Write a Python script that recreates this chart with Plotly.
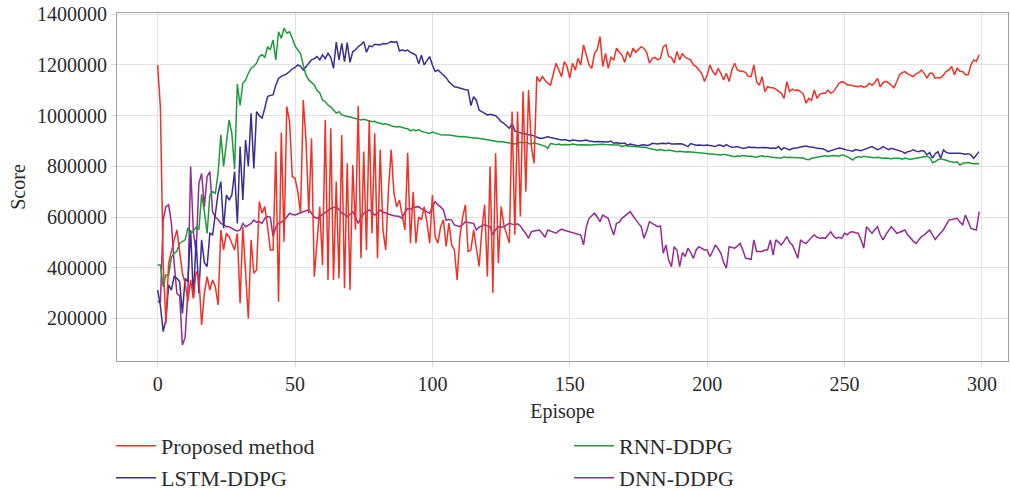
import numpy as np
import plotly.graph_objects as go

# Episodes 0..299
episodes = list(range(300))

# Scores in thousands (x1000 when plotted)
proposed_method = [
    1200,1030,420,180,418,470,510,549,457,378,
    339,266,352,280,385,365,174,299,365,312,
    352,325,253,549,470,536,523,500,470,536,
    260,562,391,200,510,378,391,661,615,641,
    562,470,470,858,266,933,503,1036,977,760,
    753,700,615,1062,900,615,911,365,500,641,
    411,983,352,950,352,740,358,924,319,812,
    312,805,550,1038,437,858,470,983,536,930,
    437,865,549,470,707,865,694,640,667,602,
    549,854,497,700,497,600,589,641,580,497,
    687,523,497,562,589,484,576,490,470,352,
    523,600,648,464,470,549,480,405,549,648,
    365,800,300,852,418,641,569,530,497,1016,
    530,1016,602,1095,700,1101,880,812,1154,1134,
    1154,1140,1128,1121,1167,1207,1180,1154,1213,1194,
    1148,1207,1180,1226,1200,1279,1240,1200,1187,1246,
    1260,1312,1194,1246,1187,1230,1220,1266,1250,1240,
    1210,1253,1230,1266,1250,1260,1272,1265,1250,1207,
    1226,1230,1220,1226,1272,1279,1233,1230,1207,1253,
    1220,1246,1230,1225,1220,1200,1194,1180,1167,1135,
    1160,1200,1175,1160,1187,1167,1141,1167,1135,1180,
    1207,1180,1175,1175,1170,1154,1154,1200,1134,1120,
    1154,1095,1114,1110,1110,1105,1095,1088,1068,1134,
    1095,1105,1100,1101,1095,1085,1049,1068,1060,1101,
    1068,1085,1088,1088,1101,1088,1095,1110,1128,1134,
    1130,1121,1121,1118,1115,1114,1118,1112,1116,1128,
    1120,1130,1147,1114,1130,1135,1130,1121,1110,1134,
    1161,1170,1174,1165,1161,1154,1165,1170,1180,1167,
    1148,1167,1167,1148,1150,1150,1160,1175,1180,1194,
    1161,1187,1175,1174,1161,1161,1200,1220,1215,1240,
]

rnn_ddpg = [
    411,411,325,371,371,440,457,465,497,503,
    510,557,535,545,560,550,690,620,535,687,
    700,694,773,924,800,890,983,930,790,1125,
    1040,1128,1140,1167,1187,1195,1207,1233,1240,1230,
    1272,1260,1299,1220,1331,1305,1345,1325,1331,1305,
    1275,1259,1245,1200,1160,1141,1130,1121,1100,1090,
    1062,1055,1042,1035,1022,1010,1016,1003,1000,996,
    995,992,990,988,983,986,983,980,976,978,
    972,970,966,968,963,960,957,955,957,952,
    950,948,940,945,940,945,938,935,932,930,
    935,930,928,925,926,924,924,922,920,919,
    917,918,916,915,914,912,912,911,909,907,
    905,903,900,897,897,898,895,893,892,890,
    888,892,895,893,895,890,888,893,890,888,
    885,880,871,890,888,885,888,884,886,885,
    885,888,886,884,885,884,886,885,884,885,
    886,888,887,886,884,885,884,883,884,878,
    882,880,879,877,878,876,875,873,874,870,
    867,866,864,866,864,862,864,862,860,858,
    860,858,857,858,856,856,855,854,852,853,
    852,851,850,849,847,845,848,846,842,840,
    838,842,840,843,841,840,840,838,836,840,
    842,838,840,837,835,836,834,832,838,835,
    836,835,836,835,834,833,828,826,832,834,
    836,838,840,842,840,842,843,842,840,845,
    843,838,832,825,835,838,836,840,838,836,
    835,834,836,833,832,833,831,830,832,831,
    832,828,833,830,828,830,833,835,836,838,
    840,835,815,818,826,830,828,824,820,818,
    815,818,805,812,815,815,812,810,811,810,
]

lstm_ddpg = [
    312,250,148,195,332,312,365,358,345,220,
    358,345,549,280,510,299,510,420,405,536,
    530,615,694,740,556,687,667,687,779,575,
    878,667,904,800,1009,792,1016,1000,990,1030,
    1075,1080,1082,1120,1147,1155,1160,1165,1174,1185,
    1190,1200,1195,1180,1193,1205,1220,1225,1233,1220,
    1240,1225,1246,1230,1187,1290,1220,1285,1213,1288,
    1210,1252,1260,1272,1280,1292,1250,1275,1272,1282,
    1280,1279,1285,1283,1286,1292,1290,1292,1255,1260,
    1255,1259,1250,1245,1239,1205,1238,1200,1215,1233,
    1200,1174,1180,1170,1160,1150,1134,1125,1114,1112,
    1108,1105,1102,1101,1040,1075,1060,1022,1015,1008,
    1003,1005,1003,1000,990,976,970,960,950,970,
    940,935,932,930,928,925,924,920,915,911,
    911,915,917,914,911,910,908,904,906,902,
    900,904,902,903,900,902,904,900,898,897,
    898,897,898,897,896,900,891,893,891,890,
    892,884,888,886,885,880,884,885,882,884,
    891,889,888,890,891,889,892,888,889,887,
    889,888,884,878,890,885,883,884,883,882,
    884,882,880,878,884,883,878,886,880,875,
    876,878,874,871,872,876,874,875,873,874,
    872,874,873,871,872,871,878,865,874,870,
    865,870,871,873,876,878,880,877,876,874,
    871,870,869,865,858,862,866,870,872,870,
    866,864,862,860,866,865,862,866,870,871,
    878,872,866,870,878,872,866,871,868,866,
    863,858,851,858,860,865,860,858,862,860,
    845,855,832,850,858,832,865,855,852,852,
    852,853,852,850,848,850,845,832,845,858,
]

dnn_ddpg = [
    266,266,588,641,648,575,418,299,290,95,
    125,300,799,540,460,733,772,640,760,779,
    620,600,590,575,570,562,562,555,549,545,
    549,575,562,568,575,588,580,582,575,595,
    602,600,523,560,575,580,588,600,615,610,
    608,612,618,621,625,628,615,600,595,602,
    608,615,625,634,638,641,630,615,610,602,
    610,621,600,575,600,615,620,628,620,608,
    615,628,620,615,612,608,605,603,602,595,
    620,634,630,638,641,641,632,628,620,615,
    640,661,648,640,628,588,590,588,569,565,
    562,570,582,578,575,575,549,560,565,569,
    565,562,529,550,562,560,562,568,575,572,
    570,573,565,549,535,516,542,545,548,549,
    535,520,549,545,540,536,545,552,548,545,
    542,540,536,534,529,490,560,595,605,615,
    600,582,608,600,595,560,529,575,580,595,
    605,612,621,605,588,575,562,516,545,582,
    575,570,562,565,457,490,430,404,483,470,
    404,460,444,477,460,437,470,483,475,470,
    470,444,465,490,475,457,420,398,483,480,
    477,485,496,470,437,435,433,510,464,464,
    464,470,470,510,450,510,500,490,505,523,
    500,490,465,437,510,500,496,510,520,529,
    520,516,518,516,530,542,525,516,520,516,
    536,530,540,542,538,536,510,477,562,550,
    536,550,562,530,510,530,549,562,550,536,
    540,545,549,530,516,505,496,510,523,530,
    540,549,530,512,525,536,550,569,588,590,
    592,595,580,569,608,580,556,552,549,621,
]

x_ticks = [0, 50, 100, 150, 200, 250, 300]
y_ticks = [200000, 400000, 600000, 800000, 1000000, 1200000, 1400000]

FONT = "Liberation Serif"
TXT = "#2b2b2b"

series = [
    # name, values, color, legend, rank
    ("DNN-DDPG", dnn_ddpg, "#962B92", "legend2", 2),
    ("LSTM-DDPG", lstm_ddpg, "#3A2E92", "legend2", 1),
    ("RNN-DDPG", rnn_ddpg, "#1E9A3C", "legend", 2),
    ("Proposed method", proposed_method, "#EE3226", "legend", 1),
]

fig = go.Figure()
for name, vals, color, leg, rank in series:
    fig.add_trace(go.Scatter(
        x=episodes, y=np.array(vals, dtype=float) * 1000.0,
        mode="lines", name=name, legend=leg, legendrank=rank,
        line=dict(color=color, width=1.5),
    ))

axis_common = dict(
    showgrid=True, gridcolor="#e2e2e2", gridwidth=1,
    showline=True, linecolor="#a0a0a0", linewidth=1, mirror=True,
    zeroline=False, automargin=False,
    ticks="outside", ticklen=5, tickcolor="#d8d8d8",
    tickfont=dict(family=FONT, size=20, color=TXT),
)

legend_common = dict(
    orientation="h", xanchor="left", yanchor="middle",
    entrywidth=403, entrywidthmode="pixels", itemwidth=40,
    font=dict(family=FONT, size=22, color=TXT), bgcolor="rgba(0,0,0,0)",
    traceorder="normal",
)

fig.update_layout(
    width=1010, height=491,
    margin=dict(l=117, r=2, t=13, b=130, autoexpand=False),
    paper_bgcolor="white", plot_bgcolor="white",
    font=dict(family=FONT, size=20, color=TXT),
    xaxis=dict(
        range=[-14.8, 309.5], tickvals=x_ticks,
        title=dict(text="Episope", font=dict(family=FONT, size=20, color=TXT), standoff=9),
        **axis_common,
    ),
    yaxis=dict(
        range=[32000, 1405000], tickvals=y_ticks,
        tickformat="d",
        title=dict(text="Score", font=dict(family=FONT, size=20, color=TXT), standoff=6),
        **axis_common,
    ),
    legend=dict(x=-0.0067, y=-0.2443, **legend_common),
    legend2=dict(x=-0.0067, y=-0.3362, **legend_common),
    showlegend=True,
)

fig.write_html(
    "out.html",
    config={"displayModeBar": False},
    post_script="document.body.style.margin='0px';document.body.style.overflow='hidden';",
)
